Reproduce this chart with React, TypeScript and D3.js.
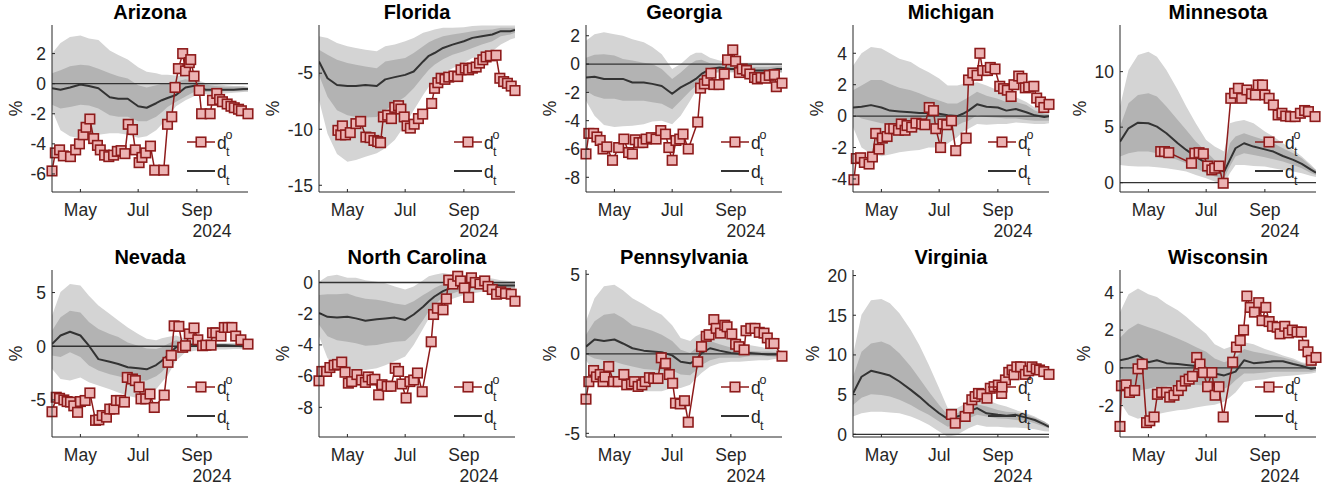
import React from "react";
import * as d3 from "d3";

// ---------- shared axes data ----------
const startDate = new Date(2024, 3, 1);
const endDate = new Date(2024, 9, 25);
// days since 2024-04-01 at which the model bands / median were read
const gridDays = [0, 9, 19, 30, 39, 49, 61, 70, 80, 91, 100, 110, 116, 122, 131, 141, 153, 162, 172, 183, 192, 202, 207];
const monthTickDates = [new Date(2024, 4, 1), new Date(2024, 6, 1), new Date(2024, 8, 1)];
const monthTickLabels = ["May", "Jul", "Sep"];
const yearLabel = "2024";
const yAxisLabel = "%";
const legendObs = "d";
const legendSup = "o";
const legendSub = "t";

// ---------- Arizona ----------
const azYDomain = [-7.2, 3.9];
const azYTicks = [-6, -4, -2, 0, 2];
const azMid = [-0.3, -0.4, -0.25, -0.05, -0.15, -0.3, -0.9, -1.0, -1.0, -1.5, -1.6, -1.3, -1.1, -0.95, -0.75, -0.25, -0.1, -0.4, -0.4, -0.4, -0.4, -0.35, -0.35];
const azOutHi = [2.0, 2.7, 3.1, 3.2, 3.0, 2.9, 2.2, 1.9, 1.6, 1.1, 0.8, 0.7, 0.6, 0.6, 0.55, 0.5, 0.25, 0.05, 0.0, -0.1, -0.15, -0.15, -0.2];
const azOutLo = [-1.75, -3.1, -3.5, -3.65, -3.6, -3.4, -3.3, -3.3, -3.4, -3.6, -3.5, -3.1, -2.7, -2.2, -1.5, -1.1, -0.75, -0.7, -0.65, -0.65, -0.6, -0.55, -0.55];
const azInHi = [0.7, 0.9, 1.15, 1.25, 1.2, 1.0, 0.7, 0.5, 0.35, -0.1, -0.25, -0.1, 0.0, 0.05, 0.15, 0.3, 0.15, -0.05, -0.15, -0.2, -0.2, -0.2, -0.25];
const azInLo = [-1.4, -1.65, -1.55, -1.4, -1.45, -1.65, -2.1, -2.2, -2.2, -2.5, -2.5, -2.2, -1.9, -1.55, -1.2, -0.85, -0.45, -0.55, -0.55, -0.5, -0.5, -0.5, -0.45];
const azObs = [[0, -5.8], [3.5, -4.6], [8, -4.4], [12, -4.8], [19.5, -4.85], [25, -4.4], [29, -4.0], [33, -3.4], [36, -2.9], [40, -2.35], [44, -3.65], [48, -4.1], [51, -4.4], [55.5, -4.75], [60, -4.85], [65, -4.75], [69, -4.5], [73, -4.45], [77, -4.65], [80.5, -2.7], [85, -3.05], [88, -4.4], [92, -5.25], [95, -4.9], [99, -4.6], [104, -4.15], [108.5, -5.75], [118, -5.75], [122, -2.7], [126.5, -2.2], [130, -0.25], [133.5, 1.0], [138, 2.0], [141, 0.85], [145, 1.4], [146.5, 1.6], [150, 0.5], [155.5, -0.45], [158, -2.0], [167, -2.0], [169.5, -1.1], [174, -0.65], [177, -1.05], [180, -1.2], [185, -1.35], [189, -1.5], [192.5, -1.6], [197, -1.7], [200, -1.8], [207, -2.0]];

// ---------- Florida ----------
const flYDomain = [-15.6, -0.7];
const flYTicks = [-15, -10, -5];
const flMid = [-3.95, -5.45, -6.05, -6.15, -6.15, -6.05, -6.15, -5.55, -5.35, -5.15, -4.85, -3.95, -3.45, -3.2, -2.75, -2.45, -2.15, -1.85, -1.7, -1.55, -1.25, -1.25, -1.15];
const flOutHi = [-1.7, -1.85, -2.3, -2.6, -2.75, -2.9, -3.05, -2.6, -2.45, -2.15, -1.85, -1.4, -1.25, -1.1, -0.95, -0.95, -0.9, -0.8, -0.75, -0.75, -0.75, -0.75, -0.75];
const flOutLo = [-7.4, -10.4, -12.2, -12.9, -12.75, -12.45, -12.15, -11.7, -10.95, -9.6, -8.3, -6.95, -6.2, -5.6, -5.0, -4.55, -4.1, -3.65, -3.35, -3.05, -2.45, -2.0, -1.85];
const flInHi = [-2.9, -3.35, -3.8, -4.1, -4.25, -4.4, -4.55, -3.95, -3.8, -3.65, -3.2, -2.6, -2.25, -2.0, -1.7, -1.55, -1.4, -1.25, -1.15, -1.1, -0.95, -0.95, -0.95];
const flInLo = [-5.15, -7.1, -8.3, -8.75, -8.9, -8.95, -8.9, -8.3, -7.7, -7.1, -6.35, -5.3, -4.7, -4.25, -3.75, -3.35, -3.05, -2.75, -2.45, -2.15, -1.7, -1.55, -1.4];
const flObs = [[20, -10.1], [23, -10.5], [24.7, -9.7], [28, -10.5], [33, -10.3], [39, -9.5], [44, -9.3], [49.5, -10.7], [54, -10.75], [58, -11.0], [62, -11.1], [65, -11.2], [68, -8.9], [72.5, -8.75], [76.5, -9.05], [80, -8.05], [84, -7.9], [86.5, -8.2], [90, -8.9], [93, -9.7], [96.5, -9.9], [100.5, -9.55], [105, -9.05], [109.5, -8.65], [119, -7.7], [122, -6.35], [125.5, -5.85], [129, -5.45], [133, -5.55], [137, -5.35], [142.5, -5.25], [146.5, -5.3], [150, -4.7], [154.5, -4.55], [158, -4.7], [162, -4.55], [166, -4.45], [169.5, -4.1], [173, -3.8], [176.5, -3.55], [181, -3.45], [187, -3.4], [191, -5.45], [195, -5.75], [199, -5.9], [203, -6.15], [207, -6.55]];

// ---------- Georgia ----------
const gaYDomain = [-9.04, 2.76];
const gaYTicks = [-8, -6, -4, -2, 0, 2];
const gaMid = [-0.95, -0.9, -1.05, -1.05, -1.05, -1.3, -1.3, -1.4, -1.55, -2.1, -1.65, -1.3, -1.05, -0.7, -0.35, -0.25, -0.35, -0.35, -0.45, -0.45, -0.45, -0.35, -0.35];
const gaOutHi = [1.65, 2.1, 2.25, 2.1, 2.0, 1.75, 1.55, 1.2, 0.7, -0.35, 0.0, 0.6, 0.8, 0.8, 0.45, 0.25, 0.1, 0.1, 0.1, 0.1, 0.1, 0.05, 0.05];
const gaOutLo = [-2.6, -3.65, -4.3, -4.45, -4.4, -4.35, -4.25, -4.05, -4.0, -4.25, -3.65, -2.6, -1.9, -1.2, -0.7, -0.6, -0.6, -0.6, -0.6, -0.5, -0.5, -0.45, -0.45];
const gaInHi = [0.45, 0.65, 0.7, 0.6, 0.35, 0.25, 0.1, 0.0, -0.35, -1.05, -0.6, 0.0, 0.25, 0.3, 0.05, -0.05, -0.1, -0.15, -0.2, -0.2, -0.2, -0.15, -0.15];
const gaInLo = [-1.9, -2.25, -2.45, -2.45, -2.6, -2.6, -2.6, -2.7, -2.8, -3.2, -2.6, -1.9, -1.55, -1.2, -0.7, -0.5, -0.5, -0.6, -0.65, -0.7, -0.65, -0.6, -0.6];
const gaObs = [[0, -6.35], [3, -4.9], [8, -4.9], [11.5, -5.15], [15, -5.4], [18, -6.0], [22, -5.85], [28, -6.8], [34.5, -5.9], [40, -5.3], [45, -6.25], [49, -6.35], [52, -5.35], [56, -5.55], [60, -5.55], [63.5, -5.3], [69, -5.2], [74, -5.3], [79, -4.7], [84, -4.95], [87.5, -5.9], [91, -6.8], [95, -5.4], [99, -5.3], [102.5, -4.95], [108, -6.0], [118, -4.1], [121, -1.7], [125, -1.4], [128, -1.15], [132, -0.65], [135, -1.45], [140.5, -1.45], [146, -0.7], [149.5, 0.3], [155, 1.0], [158, 0.2], [162, -0.6], [165, -0.35], [169.5, -0.45], [173, -0.7], [178, -0.95], [181, -1.05], [185, -0.95], [189.5, -1.0], [193.5, -0.8], [199, -0.75], [201, -1.6], [207, -1.35]];

// ---------- Michigan ----------
const miYDomain = [-4.83, 5.8];
const miYTicks = [-4, -2, 0, 2, 4];
const miMid = [0.55, 0.6, 0.7, 0.55, 0.35, 0.3, 0.25, 0.2, 0.2, 0.15, 0.05, 0.0, 0.15, 0.35, 0.75, 0.6, 0.55, 0.35, 0.45, 0.25, 0.05, -0.05, 0.0];
const miOutHi = [3.2, 4.0, 4.4, 4.3, 4.0, 3.65, 3.45, 3.1, 2.8, 2.4, 1.95, 1.95, 2.05, 2.05, 2.15, 1.95, 1.65, 1.3, 1.2, 0.9, 0.55, 0.35, 0.25];
const miOutLo = [-0.7, -2.0, -2.4, -2.55, -2.45, -2.3, -2.2, -2.15, -2.0, -2.0, -1.75, -1.35, -1.0, -0.8, -0.5, -0.55, -0.5, -0.5, -0.4, -0.45, -0.5, -0.5, -0.45];
const miInHi = [1.65, 1.95, 2.3, 2.3, 2.05, 1.8, 1.65, 1.45, 1.2, 1.0, 0.8, 0.8, 1.0, 1.2, 1.55, 1.3, 1.1, 0.9, 0.9, 0.7, 0.35, 0.15, 0.1];
const miInLo = [0.15, -0.15, -0.3, -0.45, -0.5, -0.55, -0.55, -0.55, -0.55, -0.6, -0.65, -0.6, -0.4, -0.3, 0.05, -0.05, -0.1, -0.15, -0.15, -0.25, -0.3, -0.3, -0.3];
const miObs = [[1, -4.05], [3.5, -2.7], [8, -2.65], [12, -2.95], [17, -3.05], [20.5, -2.6], [24, -1.1], [27.5, -2.1], [31, -1.4], [36, -1.3], [39, -0.8], [43, -0.8], [48, -0.9], [51, -0.5], [55, -0.9], [57, -0.6], [62, -0.7], [66.5, -0.45], [72.5, -0.5], [76, -0.55], [80.5, 0.55], [85, 0.35], [87.5, -0.8], [92.5, -2.0], [95, -0.5], [99, -0.55], [104, -0.3], [108.5, -2.2], [119.5, -1.4], [122, 2.3], [126.5, 2.75], [131, 2.6], [134, 4.0], [137, 2.9], [142, 2.9], [145, 3.1], [150, 3.0], [155, 1.9], [159, 1.75], [163, 1.65], [167, 1.25], [170, 2.0], [175, 2.55], [178.5, 2.4], [182, 1.8], [185.5, 1.85], [191, 1.9], [194, 1.15], [198, 0.9], [201.5, 0.55], [207, 0.75]];

// ---------- Minnesota ----------
const mnYDomain = [-0.84, 14.2];
const mnYTicks = [0, 5, 10];
const mnMid = [3.7, 4.9, 5.4, 5.35, 5.05, 4.45, 3.55, 2.95, 2.35, 1.75, 1.3, 1.0, 2.05, 3.1, 3.55, 3.25, 3.0, 2.8, 2.4, 2.05, 1.7, 1.15, 0.9];
const mnOutHi = [6.85, 10.15, 11.5, 11.8, 11.35, 10.15, 8.35, 6.85, 5.35, 3.85, 3.25, 2.8, 5.35, 5.5, 5.65, 5.35, 4.6, 4.15, 3.55, 2.95, 2.35, 1.6, 1.15];
const mnOutLo = [1.6, 1.5, 1.45, 1.45, 1.4, 1.3, 1.15, 1.0, 0.7, 0.4, 0.1, -0.2, 0.85, 1.6, 1.6, 1.5, 1.45, 1.3, 1.15, 1.0, 0.85, 0.6, 0.5];
const mnInHi = [5.05, 7.15, 7.9, 8.05, 7.75, 6.85, 5.65, 4.75, 3.7, 2.8, 2.05, 1.6, 3.55, 4.15, 4.45, 4.15, 3.85, 3.55, 3.1, 2.65, 2.2, 1.45, 1.15];
const mnInLo = [2.35, 2.65, 2.8, 2.8, 2.65, 2.4, 2.05, 1.75, 1.3, 0.85, 0.55, 0.4, 1.45, 2.35, 2.65, 2.5, 2.3, 2.1, 1.9, 1.6, 1.3, 0.85, 0.7];
const mnObs = [[43, 2.8], [47, 2.8], [51.5, 2.7], [75.5, 1.75], [79, 2.65], [83.5, 2.7], [88, 2.6], [92.5, 1.5], [97, 1.15], [100, 1.3], [104.5, 1.5], [109, -0.05], [117, 7.6], [121, 8.05], [125, 8.5], [128.5, 7.6], [134, 8.35], [139, 8.0], [143, 7.9], [146, 8.8], [150.5, 8.8], [153, 7.9], [157.5, 7.6], [162, 7.0], [167, 6.1], [171, 6.25], [175, 6.0], [180, 5.95], [185, 5.95], [190.5, 6.25], [195, 6.5], [199, 6.4], [206, 5.95]];

// ---------- Nevada ----------
const nvYDomain = [-8.45, 7.1];
const nvYTicks = [-5, 0, 5];
const nvMid = [0.2, 1.0, 1.35, 1.0, 0.05, -1.2, -1.45, -1.65, -1.95, -2.05, -2.15, -1.75, -1.35, -0.85, -0.1, 0.2, 0.1, 0.05, 0.1, 0.1, 0.05, 0.0, 0.0];
const nvOutHi = [2.85, 5.05, 5.8, 5.65, 4.7, 3.8, 3.0, 2.4, 1.75, 1.15, 0.7, 0.55, 0.75, 0.85, 1.0, 0.7, 0.55, 0.35, 0.3, 0.3, 0.3, 0.2, 0.2];
const nvOutLo = [-2.1, -3.05, -3.2, -2.9, -3.35, -3.65, -4.0, -4.3, -4.6, -4.85, -4.6, -4.0, -3.35, -2.75, -1.35, -0.55, -0.4, -0.3, -0.3, -0.3, -0.25, -0.25, -0.25];
const nvInHi = [1.45, 2.7, 3.3, 3.15, 2.25, 1.6, 1.15, 0.85, 0.35, 0.05, -0.2, -0.25, -0.1, 0.2, 0.55, 0.35, 0.3, 0.2, 0.2, 0.2, 0.2, 0.1, 0.1];
const nvInLo = [-0.85, -1.0, -0.55, -1.0, -1.8, -2.25, -2.6, -2.8, -3.0, -3.2, -3.2, -2.8, -2.4, -1.8, -0.55, -0.1, -0.1, -0.1, -0.1, -0.1, -0.1, -0.1, -0.1];
const nvObs = [[0, -6.1], [4.5, -4.75], [8, -4.85], [12.5, -5.0], [16, -5.15], [19.5, -5.2], [23, -5.55], [27, -6.15], [30, -5.15], [35, -5.05], [40, -4.35], [46, -6.9], [49.5, -6.85], [53, -6.45], [57.5, -6.6], [61, -5.85], [65.5, -5.85], [68, -5.05], [72.5, -5.05], [76.5, -5.2], [79.5, -2.9], [85, -3.05], [88, -3.2], [92, -3.8], [94, -4.9], [99, -4.9], [103.5, -4.45], [108, -5.7], [118.5, -4.55], [122.5, -1.5], [126, -0.85], [129, 1.9], [134, 1.85], [138, -0.1], [141, 0.05], [145, 1.15], [150, 1.7], [154, 0.6], [159, 0.05], [162.5, 0.1], [168, 0.1], [169.5, 1.25], [173, 1.25], [178.5, 0.95], [182, 1.75], [186, 1.75], [190, 1.75], [194, 0.95], [199.5, 0.6], [207, 0.2]];

// ---------- North Carolina ----------
const ncYDomain = [-9.9, 0.8];
const ncYTicks = [-8, -6, -4, -2, 0];
const ncMid = [-1.95, -2.2, -2.25, -2.2, -2.3, -2.45, -2.35, -2.3, -2.25, -2.4, -2.05, -1.55, -1.2, -0.9, -0.55, -0.3, -0.15, -0.1, -0.15, -0.15, -0.2, -0.2, -0.2];
const ncOutHi = [0.05, 0.4, 0.5, 0.3, 0.3, 0.15, 0.05, -0.05, -0.25, -0.45, -0.25, 0.15, 0.4, 0.5, 0.6, 0.5, 0.4, 0.3, 0.3, 0.25, 0.15, 0.1, 0.1];
const ncOutLo = [-3.45, -4.85, -5.3, -5.6, -5.65, -5.6, -5.5, -5.3, -5.05, -4.75, -4.0, -2.95, -2.3, -1.85, -1.4, -1.05, -0.8, -0.7, -0.6, -0.6, -0.55, -0.55, -0.55];
const ncInHi = [-0.8, -0.75, -0.75, -0.7, -0.9, -1.05, -1.1, -1.2, -1.35, -1.45, -1.2, -0.8, -0.6, -0.35, -0.1, 0.05, 0.1, 0.1, 0.05, 0.05, 0.0, 0.0, 0.0];
const ncInLo = [-2.7, -3.45, -3.7, -3.8, -3.9, -4.05, -4.0, -3.9, -3.8, -3.75, -3.25, -2.4, -1.85, -1.45, -0.95, -0.7, -0.45, -0.4, -0.4, -0.35, -0.35, -0.35, -0.35];
const ncObs = [[0, -6.3], [3, -5.7], [8, -5.7], [11.5, -5.45], [16, -5.3], [19.5, -5.25], [24, -5.1], [27.5, -5.75], [31, -6.45], [34.5, -6.35], [40, -5.9], [45, -6.25], [49, -6.4], [52, -6.05], [56, -6.25], [59, -6.2], [63, -7.2], [66.5, -6.55], [72, -6.65], [76, -6.65], [80.5, -5.5], [84, -5.7], [87.5, -6.5], [92, -7.4], [96, -6.35], [100, -6.25], [104, -5.8], [109, -7.0], [118.5, -3.8], [121, -2.05], [125, -1.65], [131, -1.75], [134.5, -1.05], [137, 0.15], [141.5, -0.1], [146.5, 0.4], [149.5, 0.1], [153.5, -0.35], [158, -0.95], [161, 0.3], [165, 0.0], [170, -0.1], [175, 0.1], [178.5, -0.25], [183, -0.45], [187.5, -0.75], [192, -0.6], [197, -0.7], [203, -0.75], [207, -1.2]];

// ---------- Pennsylvania ----------
const paYDomain = [-5.23, 5.27];
const paYTicks = [-5, 0, 5];
const paMid = [0.45, 0.9, 0.8, 0.9, 0.65, 0.35, 0.2, 0.15, 0.1, -0.1, -0.5, -0.6, -0.4, 0.05, 0.35, 0.2, 0.05, 0.0, 0.05, 0.0, -0.05, -0.05, -0.05];
const paOutHi = [2.05, 3.5, 4.25, 4.35, 4.0, 3.5, 3.1, 2.75, 2.45, 1.8, 1.0, 0.8, 1.1, 1.3, 1.4, 1.2, 0.9, 0.65, 0.55, 0.45, 0.35, 0.25, 0.2];
const paOutLo = [-0.4, -1.2, -1.55, -1.75, -1.95, -2.15, -2.35, -2.35, -2.35, -2.15, -2.15, -1.95, -1.55, -1.2, -0.8, -0.6, -0.5, -0.5, -0.45, -0.4, -0.4, -0.3, -0.3];
const paInHi = [1.2, 2.05, 2.45, 2.55, 2.25, 1.8, 1.6, 1.45, 1.2, 0.8, 0.25, 0.05, 0.35, 0.65, 0.8, 0.6, 0.4, 0.25, 0.2, 0.15, 0.15, 0.1, 0.1];
const paInLo = [-0.05, -0.3, -0.4, -0.5, -0.65, -0.8, -0.95, -1.0, -1.05, -1.05, -1.3, -1.35, -1.05, -0.7, -0.4, -0.25, -0.25, -0.25, -0.15, -0.15, -0.15, -0.2, -0.2];
const paObs = [[0, -2.85], [3, -1.75], [8, -1.05], [11, -1.45], [15, -1.3], [18, -1.75], [20, -1.45], [24, -0.8], [29, -1.75], [34, -1.75], [40, -1.3], [43, -1.95], [48, -1.9], [51, -1.75], [55, -2.05], [59, -1.95], [62.5, -1.75], [67, -1.5], [71.5, -1.55], [76, -1.55], [79.5, -0.25], [84, -0.6], [88, -1.3], [91.5, -1.85], [94.5, -3.1], [99.5, -3.15], [104, -2.95], [108, -4.3], [118, -0.5], [122, 0.45], [127, 1.1], [130, 1.2], [135, 2.15], [137.5, 1.6], [142, 1.3], [146.5, 1.8], [149, 1.7], [154, 1.25], [158, 0.6], [161.5, 0.45], [167, 0.25], [169, 1.45], [174, 1.6], [178.5, 1.6], [183, 1.35], [188, 1.3], [191.5, 1.0], [195, 0.65], [198.5, 0.65], [207, -0.15]];

// ---------- Virginia ----------
const vaYDomain = [-0.34, 20.7];
const vaYTicks = [0, 5, 10, 15, 20];
const vaMid = [5.15, 7.25, 8.0, 7.7, 7.4, 6.65, 5.6, 4.75, 3.7, 2.65, 1.95, 2.25, 2.45, 2.85, 3.3, 2.65, 2.45, 2.35, 2.45, 2.1, 1.8, 1.25, 0.95];
const vaOutHi = [10.0, 15.05, 16.9, 17.05, 16.5, 15.25, 13.15, 11.25, 8.75, 5.8, 3.3, 3.3, 3.7, 4.35, 4.75, 4.35, 3.8, 3.5, 3.05, 2.65, 2.25, 1.6, 1.2];
const vaOutLo = [2.25, 2.65, 2.85, 2.85, 2.75, 2.65, 2.25, 1.8, 1.2, 0.35, -0.3, -0.1, 0.35, 0.75, 1.2, 0.95, 0.95, 0.85, 0.85, 0.75, 0.65, 0.4, 0.35];
const vaInHi = [7.25, 10.4, 11.45, 11.7, 11.25, 10.2, 8.55, 7.05, 5.4, 3.7, 2.45, 2.65, 3.05, 3.5, 3.8, 3.5, 3.05, 2.85, 2.75, 2.45, 2.1, 1.6, 1.25];
const vaInLo = [3.7, 4.6, 5.05, 4.95, 4.75, 4.35, 3.7, 3.05, 2.45, 1.6, 0.95, 1.2, 1.6, 2.0, 2.45, 2.25, 2.0, 1.95, 1.8, 1.7, 1.4, 0.95, 0.75];
const vaObs = [[104, 2.5], [108, 1.4], [118.5, 2.25], [122, 3.3], [125.5, 4.35], [129, 4.75], [132.5, 5.15], [136, 5.05], [141.5, 4.55], [145, 5.8], [149, 6.0], [153.5, 6.2], [157, 5.15], [161, 6.85], [164.5, 7.8], [168, 8.1], [170, 7.5], [173, 8.5], [177, 8.5], [182, 7.55], [185.5, 8.0], [189, 8.5], [193.5, 8.25], [197, 8.1], [201.5, 7.9], [207, 7.55]];

// ---------- Wisconsin ----------
const wiYDomain = [-3.66, 5.18];
const wiYTicks = [-2, 0, 2, 4];
const wiMid = [0.4, 0.5, 0.65, 0.3, 0.4, 0.25, 0.2, 0.15, 0.1, 0.0, -0.3, -0.4, -0.3, -0.2, 0.4, 0.25, 0.3, 0.35, 0.35, 0.2, 0.1, -0.05, 0.0];
const wiOutHi = [2.95, 3.9, 4.2, 3.9, 3.75, 3.4, 3.05, 2.7, 2.25, 1.8, 1.25, 1.0, 1.1, 1.2, 1.35, 1.25, 1.0, 0.85, 0.65, 0.5, 0.3, 0.2, 0.15];
const wiOutLo = [-1.8, -2.5, -2.7, -2.55, -2.45, -2.35, -2.25, -2.2, -2.1, -2.0, -1.95, -1.8, -1.55, -1.3, -0.75, -0.65, -0.6, -0.5, -0.45, -0.4, -0.35, -0.3, -0.25];
const wiInHi = [1.6, 2.05, 2.35, 2.15, 2.0, 1.8, 1.55, 1.35, 1.1, 0.85, 0.5, 0.3, 0.4, 0.55, 1.0, 0.85, 0.75, 0.65, 0.55, 0.4, 0.25, 0.1, 0.1];
const wiInLo = [-0.5, -0.95, -1.2, -1.1, -1.0, -0.95, -0.95, -0.9, -0.9, -0.95, -1.0, -1.1, -0.95, -0.65, -0.3, -0.3, -0.25, -0.2, -0.2, -0.2, -0.2, -0.2, -0.15];
const wiObs = [[0, -3.1], [1.5, -0.95], [6.5, -0.9], [10, -1.3], [15.5, -1.2], [19, -0.05], [23.5, 0.2], [28, -2.9], [31.5, -2.8], [36, -2.6], [39.5, -1.4], [44, -1.3], [49, -1.3], [52.5, -1.55], [57, -1.45], [61.5, -1.2], [65, -0.95], [69, -0.7], [73, -0.6], [76.5, -0.45], [81, 0.55], [84.5, 0.2], [88, -0.25], [92.5, -1.0], [97, -0.25], [100.5, -1.45], [104.5, -1.0], [109, -2.6], [119, 0.3], [123, 1.1], [127, 1.45], [130.5, 2.0], [134, 3.8], [137.5, 3.2], [142, 2.95], [146.5, 3.45], [150, 2.5], [154, 3.2], [157.5, 2.45], [161, 2.2], [166, 2.15], [169, 1.8], [174, 2.2], [178, 1.85], [182, 2.0], [187, 1.9], [191.5, 1.9], [194, 1.2], [198.5, 0.85], [202, 0.4], [207, 0.55]];

const panels = [
  { name: "Arizona", yDomain: azYDomain, yTicks: azYTicks, mid: azMid, outHi: azOutHi, outLo: azOutLo, inHi: azInHi, inLo: azInLo, obs: azObs },
  { name: "Florida", yDomain: flYDomain, yTicks: flYTicks, mid: flMid, outHi: flOutHi, outLo: flOutLo, inHi: flInHi, inLo: flInLo, obs: flObs },
  { name: "Georgia", yDomain: gaYDomain, yTicks: gaYTicks, mid: gaMid, outHi: gaOutHi, outLo: gaOutLo, inHi: gaInHi, inLo: gaInLo, obs: gaObs },
  { name: "Michigan", yDomain: miYDomain, yTicks: miYTicks, mid: miMid, outHi: miOutHi, outLo: miOutLo, inHi: miInHi, inLo: miInLo, obs: miObs },
  { name: "Minnesota", yDomain: mnYDomain, yTicks: mnYTicks, mid: mnMid, outHi: mnOutHi, outLo: mnOutLo, inHi: mnInHi, inLo: mnInLo, obs: mnObs },
  { name: "Nevada", yDomain: nvYDomain, yTicks: nvYTicks, mid: nvMid, outHi: nvOutHi, outLo: nvOutLo, inHi: nvInHi, inLo: nvInLo, obs: nvObs },
  { name: "North Carolina", yDomain: ncYDomain, yTicks: ncYTicks, mid: ncMid, outHi: ncOutHi, outLo: ncOutLo, inHi: ncInHi, inLo: ncInLo, obs: ncObs },
  { name: "Pennsylvania", yDomain: paYDomain, yTicks: paYTicks, mid: paMid, outHi: paOutHi, outLo: paOutLo, inHi: paInHi, inLo: paInLo, obs: paObs },
  { name: "Virginia", yDomain: vaYDomain, yTicks: vaYTicks, mid: vaMid, outHi: vaOutHi, outLo: vaOutLo, inHi: vaInHi, inLo: vaInLo, obs: vaObs },
  { name: "Wisconsin", yDomain: wiYDomain, yTicks: wiYTicks, mid: wiMid, outHi: wiOutHi, outLo: wiOutLo, inHi: wiInHi, inLo: wiInLo, obs: wiObs },
];

// ---------- layout & style ----------
const WIDTH = 1338;
const HEIGHT = 489;
const colLeft = [52, 319, 586, 853, 1120];
const rowTop = [25, 270];
const PW = 196;
const PH = 167;
const FONT = "'Liberation Sans', Arial, Helvetica, sans-serif";
const TICK_FS = 17.5;
const AXIS_COLOR = "#262626";
const OUTER_FILL = "#d4d4d4";
const INNER_FILL = "#b3b3b3";
const MID_COLOR = "#333333";
const OBS_EDGE = "#8e1b1b";
const OBS_FILL = "#ecb3b3";
const MK = 9.5;
const MK_SW = 1.6;

const dayToDate = (d: number) => new Date(2024, 3, 1 + Math.floor(d), Math.round((d % 1) * 24));

function labelWidth(s: string) {
  let w = 0;
  for (const c of s) w += c === "-" ? 0.333 : 0.556;
  return w * TICK_FS;
}

type P = (typeof panels)[number];

function Panel({ p, left, top, idx }: { p: P; left: number; top: number; idx: number }) {
  const x = d3.scaleTime().domain([startDate, endDate]).range([left, left + PW]);
  const y = d3.scaleLinear().domain(p.yDomain).range([top + PH, top]);
  const rows = gridDays.map((d, i) => ({
    t: dayToDate(d),
    mid: p.mid[i],
    outHi: p.outHi[i],
    outLo: p.outLo[i],
    inHi: p.inHi[i],
    inLo: p.inLo[i],
  }));
  const outer = d3.area<any>().x((r) => x(r.t)).y0((r) => y(r.outLo)).y1((r) => y(r.outHi))(rows) || "";
  const inner = d3.area<any>().x((r) => x(r.t)).y0((r) => y(r.inLo)).y1((r) => y(r.inHi))(rows) || "";
  const midPath = d3.line<any>().x((r) => x(r.t)).y((r) => y(r.mid))(rows) || "";
  const obsPath = d3.line<number[]>().x((o) => x(dayToDate(o[0]))).y((o) => y(o[1]))(p.obs as number[][]) || "";
  const maxLab = Math.max(...p.yTicks.map((t) => labelWidth(String(t))));
  const ylabX = left - (maxLab + 21);
  const bottom = top + PH;
  const lx = left + 135;
  const ly1 = bottom - 50;
  const ly2 = bottom - 21;
  const clipId = `clip-${idx}`;
  return (
    <g>
      <defs>
        <clipPath id={clipId}>
          <rect x={left} y={top} width={PW} height={PH} />
        </clipPath>
      </defs>
      <g clipPath={`url(#${clipId})`}>
        <path d={outer} fill={OUTER_FILL} stroke="none" />
        <path d={inner} fill={INNER_FILL} stroke="none" />
        <line x1={left} x2={left + PW} y1={y(0)} y2={y(0)} stroke="#333" strokeWidth={1.3} />
        <path d={midPath} fill="none" stroke={MID_COLOR} strokeWidth={2} strokeLinejoin="round" />
      </g>
      <path d={obsPath} fill="none" stroke={OBS_EDGE} strokeWidth={1.5} strokeLinejoin="round" />
      {p.obs.map((o, i) => (
        <rect
          key={i}
          x={x(dayToDate(o[0])) - MK / 2}
          y={y(o[1]) - MK / 2}
          width={MK}
          height={MK}
          fill={OBS_FILL}
          stroke={OBS_EDGE}
          strokeWidth={MK_SW}
        />
      ))}
      {/* axes */}
      <line x1={left} x2={left} y1={top} y2={bottom} stroke={AXIS_COLOR} strokeWidth={1} />
      <line x1={left} x2={left + PW} y1={bottom} y2={bottom} stroke={AXIS_COLOR} strokeWidth={1} />
      {p.yTicks.map((t) => (
        <g key={t}>
          <line x1={left} x2={left + 3} y1={y(t)} y2={y(t)} stroke={AXIS_COLOR} />
          <text
            x={left - 6}
            y={y(t)}
            dy="0.36em"
            textAnchor="end"
            fontSize={TICK_FS}
            fill={AXIS_COLOR}
            fontFamily={FONT}
          >
            {String(t)}
          </text>
        </g>
      ))}
      {monthTickDates.map((d, i) => (
        <g key={i}>
          <line x1={x(d)} x2={x(d)} y1={bottom} y2={bottom - 3} stroke={AXIS_COLOR} />
          <text x={x(d)} y={bottom + 24} textAnchor="middle" fontSize={TICK_FS} fill={AXIS_COLOR} fontFamily={FONT}>
            {monthTickLabels[i]}
          </text>
        </g>
      ))}
      <text x={left + PW - 16.5} y={bottom + 45} textAnchor="end" fontSize={TICK_FS} fill={AXIS_COLOR} fontFamily={FONT}>
        {yearLabel}
      </text>
      <text
        transform={`translate(${ylabX},${top + PH / 2}) rotate(-90)`}
        textAnchor="middle"
        dy="0.36em"
        fontSize={TICK_FS}
        fill={AXIS_COLOR}
        fontFamily={FONT}
      >
        {yAxisLabel}
      </text>
      <text x={left + PW / 2} y={top - 6} textAnchor="middle" fontSize={20} fontWeight="bold" fill="#000" fontFamily={FONT}>
        {p.name}
      </text>
      {/* legend */}
      <line x1={lx} x2={lx + 28} y1={ly1} y2={ly1} stroke={OBS_EDGE} strokeWidth={1.5} />
      <rect x={lx + 14 - MK / 2} y={ly1 - MK / 2} width={MK} height={MK} fill={OBS_FILL} stroke={OBS_EDGE} strokeWidth={MK_SW} />
      <text x={lx + 30} y={ly1 + 6.5} fontSize={TICK_FS} fill={AXIS_COLOR} fontFamily={FONT}>
        {legendObs}
      </text>
      <text x={lx + 38.5} y={ly1 - 3} fontSize={12.5} fill={AXIS_COLOR} fontFamily={FONT}>
        {legendSup}
      </text>
      <text x={lx + 39} y={ly1 + 13.5} fontSize={12.5} fill={AXIS_COLOR} fontFamily={FONT}>
        {legendSub}
      </text>
      <line x1={lx} x2={lx + 28} y1={ly2} y2={ly2} stroke={MID_COLOR} strokeWidth={2} />
      <text x={lx + 30} y={ly2 + 6.5} fontSize={TICK_FS} fill={AXIS_COLOR} fontFamily={FONT}>
        {legendObs}
      </text>
      <text x={lx + 39} y={ly2 + 13.5} fontSize={12.5} fill={AXIS_COLOR} fontFamily={FONT}>
        {legendSub}
      </text>
    </g>
  );
}

export default function App() {
  return (
    <svg
      width={WIDTH}
      height={HEIGHT}
      viewBox={`0 0 ${WIDTH} ${HEIGHT}`}
      style={{ position: "absolute", left: 0, top: 0, background: "#fff" }}
    >
      <rect x={0} y={0} width={WIDTH} height={HEIGHT} fill="#fff" />
      {panels.map((p, i) => (
        <Panel key={p.name} p={p} idx={i} left={colLeft[i % 5]} top={rowTop[Math.floor(i / 5)]} />
      ))}
    </svg>
  );
}
